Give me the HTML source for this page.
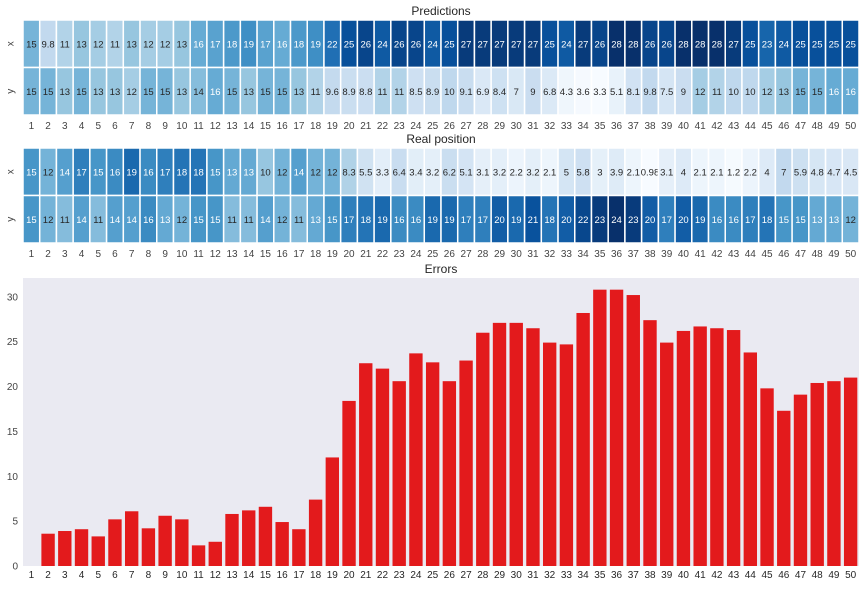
<!DOCTYPE html>
<html><head><meta charset="utf-8"><style>
body{margin:0;background:#fff;font-family:"Liberation Sans",Arial,sans-serif}
svg text{font-family:"Liberation Sans",Arial,sans-serif}
</style></head><body>
<svg id="c" width="866" height="584"></svg>
<script>
const categories=Array.from({length:50},(_,i)=>String(i+1));
const predX=[15,9.8,11,13,12,11,13,12,12,13,16,17,18,19,17,16,18,19,22,25,26,24,26,26,24,25,27,27,27,27,27,25,24,27,26,28,28,26,26,28,28,28,27,25,23,24,25,25,25,25];
const predY=[15,15,13,15,13,13,12,15,15,13,14,16,15,13,15,15,13,11,9.6,8.9,8.8,11,11,8.5,8.9,10,9.1,6.9,8.4,7,9,6.8,4.3,3.6,3.3,5.1,8.1,9.8,7.5,9,12,11,10,10,12,13,15,15,16,16];
const realX=[15,12,14,17,15,16,19,16,17,18,18,15,13,13,10,12,14,12,12,8.3,5.5,3.3,6.4,3.4,3.2,6.2,5.1,3.1,3.2,2.2,3.2,2.1,5,5.8,3,3.9,2.1,0.98,3.1,4,2.1,2.1,1.2,2.2,4,7,5.9,4.8,4.7,4.5];
const realY=[15,12,11,14,11,14,14,16,13,12,15,15,11,11,14,12,11,13,15,17,18,19,16,16,19,19,17,17,20,19,21,18,20,22,23,24,23,20,17,20,19,16,16,17,18,15,15,13,13,12];
const errors=[0,3.6,3.9,4.1,3.3,5.2,6.1,4.2,5.6,5.2,2.3,2.7,5.8,6.2,6.6,4.9,4.1,7.4,12.1,18.4,22.6,22.0,20.6,23.7,22.7,20.6,22.9,26.0,27.1,27.1,26.5,24.9,24.7,28.2,30.8,30.8,30.2,27.4,24.9,26.2,26.7,26.5,26.3,23.8,19.8,17.3,19.1,20.4,20.6,21.0];
const yTicks=[0,5,10,15,20,25,30];

const NS="http://www.w3.org/2000/svg";
const svg=document.getElementById('c');
function mk(tag,attrs,parent){const e=document.createElementNS(NS,tag);for(const k in attrs)e.setAttribute(k,attrs[k]);(parent||svg).appendChild(e);return e;}
const blues=[[247,251,255],[222,235,247],[198,219,239],[158,202,225],[107,174,214],[66,146,198],[33,113,181],[8,81,156],[8,48,107]];
function cmap(t){t=Math.max(0,Math.min(1,t))*(blues.length-1);const i=Math.min(Math.floor(t),blues.length-2),f=t-i;return blues[i].map((v,k)=>Math.round(v+(blues[i+1][k]-v)*f));}
function lum(c){const l=c.map(v=>{v/=255;return v<=0.03928?v/12.92:Math.pow((v+0.055)/1.055,2.4)});return 0.2126*l[0]+0.7152*l[1]+0.0722*l[2];}
function fmt(v){return String(v);}
const X0=23,W=836,cw=W/50;
function xBand(i){return X0+i*cw;}

function heatmap(name,title,titleY,top,rows,labels){
  const g=mk('g',{});
  
  
  const t=mk('text',{x:X0+W/2,y:titleY,'text-anchor':'middle','font-size':12,fill:'#262626'},g);t.textContent=title;
  
  
  const all=rows.flat();const mn=Math.min(...all),mx=Math.max(...all);
  const rh=47.5;
  rows.forEach((row,r)=>{
    const y=top+r*rh;
    const lt=mk('text',{x:11,y:y+rh/2,'text-anchor':'middle','font-size':10,fill:'#444',transform:`rotate(-90 11 ${y+rh/2})`,'dominant-baseline':'middle'},g);lt.textContent=labels[r];
    
    
    row.forEach((v,i)=>{
      const c=cmap((v-mn)/(mx-mn));
      const rc=mk('rect',{x:xBand(i),y:y,width:cw,height:rh,fill:`rgb(${c})`,stroke:'#fff','stroke-width':1.5},g);
      
      
      const tx=mk('text',{x:xBand(i)+cw/2,y:y+rh/2+3.5,'text-anchor':'middle','font-size':9.5,fill:lum(c)>0.408?'#262626':'#fff'},g);tx.textContent=fmt(v);
    });
  });
  categories.forEach((c,i)=>{const tx=mk('text',{x:xBand(i)+cw/2,y:top+2*rh+14,'text-anchor':'middle','font-size':10,fill:'#444'},g);tx.textContent=c;});
}
heatmap('predictions-heatmap','Predictions',15,20,[predX,predY],['x','y']);
heatmap('real-position-heatmap','Real position',143,148,[realX,realY],['x','y']);

// Errors bar chart
const PT=278,PB=566,ymax=32.1;
function yS(v){return PB-(v/ymax)*(PB-PT);}
const et=mk('text',{x:X0+W/2,y:273,'text-anchor':'middle','font-size':12,fill:'#262626'});et.textContent='Errors';


const bg=mk('rect',{x:X0,y:PT,width:W,height:PB-PT,fill:'#eaeaf2'});


yTicks.forEach(v=>{const t=mk('text',{x:X0-5,y:yS(v)+3.5,'text-anchor':'end','font-size':10,fill:'#444'});t.textContent=v;

});
errors.forEach((v,i)=>{
  const b=mk('rect',{x:xBand(i)+cw*0.1,y:yS(v),width:cw*0.8,height:PB-yS(v),fill:'#e31a1c'});
  
  
});
categories.forEach((c,i)=>{const tx=mk('text',{x:xBand(i)+cw/2,y:PB+12,'text-anchor':'middle','font-size':10,fill:'#262626'});tx.textContent=c;

});
</script>
</body></html>
